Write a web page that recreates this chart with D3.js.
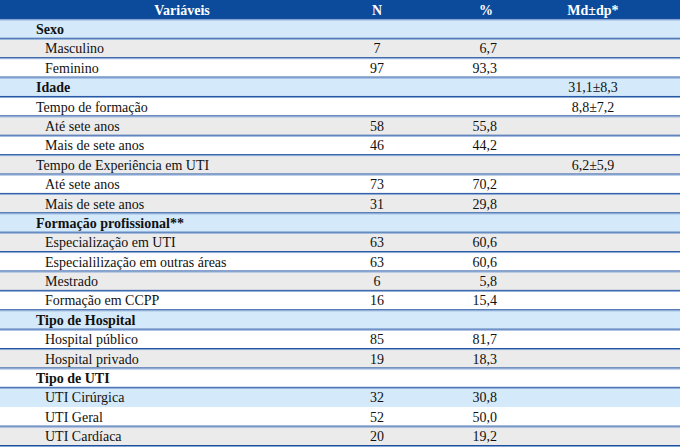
<!DOCTYPE html>
<html>
<head>
<meta charset="utf-8">
<script src="https://cdn.jsdelivr.net/npm/d3@7"></script>
<style>
  body { margin: 0; background: #fff; }
</style>
</head>
<body>
<div id="chart"></div>
<script>
// table data, one entry per row (after the header)
const headers = ["Variáveis", "N", "%", "Md±dp*"];
const labels = ["Sexo", "Masculino", "Feminino", "Idade", "Tempo de formação", "Até sete anos",
  "Mais de sete anos", "Tempo de Experiência em UTI", "Até sete anos", "Mais de sete anos",
  "Formação profissional**", "Especialização em UTI", "Especialilização em outras áreas",
  "Mestrado", "Formação em CCPP", "Tipo de Hospital", "Hospital público", "Hospital privado",
  "Tipo de UTI", "UTI Cirúrgica", "UTI Geral", "UTI Cardíaca"];
const levels = ["group", "item", "item", "group", "sub", "item", "item", "sub", "item", "item",
  "group", "item", "item", "item", "item", "group", "item", "item", "group", "item", "item", "item"];
const nValues = ["", "7", "97", "", "", "58", "46", "", "73", "31", "", "63", "63", "6", "16",
  "", "85", "19", "", "32", "52", "20"];
const pctValues = ["", "6,7", "93,3", "", "", "55,8", "44,2", "", "70,2", "29,8", "", "60,6", "60,6",
  "5,8", "15,4", "", "81,7", "18,3", "", "30,8", "50,0", "19,2"];
const mdValues = ["", "", "", "31,1±8,3", "8,8±7,2", "", "", "6,2±5,9", "", "", "", "", "", "",
  "", "", "", "", "", "", "", ""];

const width = 680, height = 448;
const font = "'Liberation Serif', 'Times New Roman', Times, 'DejaVu Serif', serif";

// row shading as in the original (b = light blue, g = grey, w = white)
const shading = "bgwbwgwgwgbgwgwbwgwbwg".split("");
const fills = { b: "#d4e9f9", g: "#ebebeb", w: "#ffffff" };

let svg = d3.select("#chart")
    .append("svg")
    .attr("width", width)
    .attr("height", height)
    .attr("font-family", font)
    .attr("font-size", 14);

let y = d3.scaleBand()
    .domain(d3.range(labels.length + 1)) // 0 is the header
    .range([0, 446]);

let rows = labels.map((d, i) => ({
    label: d, level: levels[i], n: nValues[i], pct: pctValues[i], md: mdValues[i],
    shade: shading[i], idx: i + 1
}));

// header
svg.append("rect")
    .attr("x", 0).attr("y", y(0))
    .attr("width", width).attr("height", y.bandwidth())
    .attr("fill", "#0c4b9b");

const headX = [182, 377, 486, 593];
svg.selectAll(".head")
    .data(headers)
    .join("text")
    .attr("x", (d, i) => headX[i])
    .attr("y", y(0) + y.bandwidth() / 2)
    .attr("dy", "0.35em")
    .attr("text-anchor", "middle")
    .attr("font-family", font)
    .style("font-weight", "bold")
    .style("fill", "white")
    .text(d => d);

let row = svg.selectAll(".row")
    .data(rows)
    .join("g")
    .attr("class", "row")
    .attr("transform", d => `translate(0,${y(d.idx)})`);

row.append("rect")
    .attr("width", width)
    .attr("height", y.bandwidth())
    .attr("fill", d => fills[d.shade]);

row.append("text") // variable names
    .attr("x", d => d.level == "item" ? 45 : 36)
    .attr("y", y.bandwidth() / 2)
    .attr("dy", "0.35em")
    .attr("font-family", font)
    .style("font-weight", d => d.level == "group" ? "bold" : "normal")
    .style("fill", "#111")
    .text(d => d.label);

row.append("text") // N
    .attr("x", 377)
    .attr("y", y.bandwidth() / 2)
    .attr("dy", "0.35em")
    .attr("text-anchor", "middle")
    .attr("font-family", font)
    .style("fill", "#111")
    .text(d => d.n);

row.append("text") // %
    .attr("x", 497)
    .attr("y", y.bandwidth() / 2)
    .attr("dy", "0.35em")
    .attr("text-anchor", "end")
    .attr("font-family", font)
    .style("fill", "#111")
    .text(d => d.pct);

row.append("text") // Md±dp
    .attr("x", 593)
    .attr("y", y.bandwidth() / 2)
    .attr("dy", "0.35em")
    .attr("text-anchor", "middle")
    .attr("font-family", font)
    .style("fill", "#111")
    .text(d => d.md);

// blue rules between rows (none between UTI Cirúrgica and UTI Geral)
let rules = d3.range(1, labels.length + 2).filter(i => i != 21);
let rule = svg.selectAll(".rule")
    .data(rules)
    .join("g")
    .attr("class", "rule");

rule.append("rect")
    .attr("x", 0)
    .attr("y", d => (d <= labels.length ? y(d) : y(d - 1) + y.bandwidth()) - 1)
    .attr("width", width)
    .attr("height", 1)
    .attr("fill", "#1d4f9d");

rule.append("rect")
    .attr("x", 0)
    .attr("y", d => (d <= labels.length ? y(d) : y(d - 1) + y.bandwidth()))
    .attr("width", width)
    .attr("height", 1)
    .attr("fill", "#86a6d6");
</script>
</body>
</html>
